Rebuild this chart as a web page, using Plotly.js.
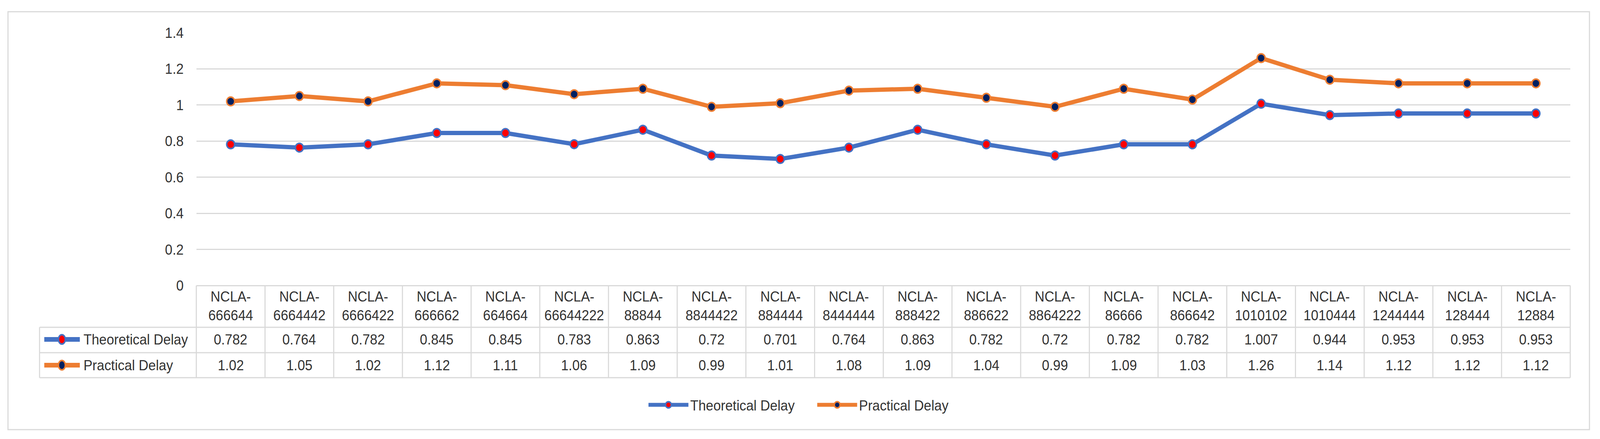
<!DOCTYPE html>
<html>
<head>
<meta charset="utf-8">
<script src="https://cdn.plot.ly/plotly-3.0.1.min.js"></script>
<style>html,body{margin:0;padding:0;background:#fff;overflow:hidden;}#chart{width:4409px;height:1124px;transform-origin:0 0;}</style>
</head>
<body>
<div id="chart"></div>
<script>
const categories = ["NCLA-666644","NCLA-6664442","NCLA-6666422","NCLA-666662","NCLA-664664","NCLA-66644222","NCLA-88844","NCLA-8844422","NCLA-884444","NCLA-8444444","NCLA-888422","NCLA-886622","NCLA-8864222","NCLA-86666","NCLA-866642","NCLA-1010102","NCLA-1010444","NCLA-1244444","NCLA-128444","NCLA-12884"];
const theoreticalDelay = [0.782,0.764,0.782,0.845,0.845,0.783,0.863,0.72,0.701,0.764,0.863,0.782,0.72,0.782,0.782,1.007,0.944,0.953,0.953,0.953];
const practicalDelay = [1.02,1.05,1.02,1.12,1.11,1.06,1.09,0.99,1.01,1.08,1.09,1.04,0.99,1.09,1.03,1.26,1.14,1.12,1.12,1.12];
const seriesNames = ["Theoretical Delay","Practical Delay"];
const yTicks = [0,0.2,0.4,0.6,0.8,1,1.2,1.4];

const W = 4409, H = 1124;
const L = 541, R = 82, T = 84, B = 393;
const PW = W - L - R, PH = H - T - B;
const px = X => (X - L) / PW;
const py = Y => (T + PH - Y) / PH;

const BLUE = "#4472C4", ORANGE = "#ED7D31", RED = "#FF0000", NAVY = "#002060";
const GRID = "#d9d9d9", TXT = "#333333";
const FONT = "Liberation Sans, Arial, sans-serif";
const FS = 37;

const traces = [
  {x: categories, y: theoreticalDelay, name: seriesNames[0], type: "scatter", mode: "lines+markers",
   line: {color: BLUE, width: 11}, marker: {color: RED, size: 22, line: {color: BLUE, width: 4}}, hoverinfo: "skip"},
  {x: categories, y: practicalDelay, name: seriesNames[1], type: "scatter", mode: "lines+markers",
   line: {color: ORANGE, width: 11}, marker: {color: NAVY, size: 22, line: {color: ORANGE, width: 4}}, hoverinfo: "skip"}
];

const shapes = [];
const annotations = [];
const N = categories.length;
const lineStyle = {color: GRID, width: 3};
shapes.push({type: "rect", xref: "paper", yref: "paper", x0: px(22), x1: px(4380), y0: py(1100), y1: py(30), line: {color: GRID, width: 3}, layer: "below"});
const yHead = 731, yR1 = 838, yR2 = 903, yEnd = 967, xLeft = 109;
[yR1, yR2, yEnd].forEach(Y => shapes.push({type: "line", xref: "paper", yref: "paper", x0: px(xLeft), x1: 1, y0: py(Y), y1: py(Y), line: lineStyle}));
shapes.push({type: "line", xref: "paper", yref: "paper", x0: px(xLeft), x1: px(xLeft), y0: py(yR1), y1: py(yEnd), line: lineStyle});
for (let k = 0; k <= N; k++) {
  shapes.push({type: "line", xref: "paper", yref: "paper", x0: k / N, x1: k / N, y0: py(yHead), y1: py(yEnd), line: lineStyle});
}
const yHeadText = py(783), yV1 = py(869), yV2 = py(935);
categories.forEach((c, i) => {
  annotations.push({xref: "x", yref: "paper", x: c, y: yHeadText, text: c.replace("-", "-<br>"), showarrow: false,
    xanchor: "center", yanchor: "middle", font: {family: FONT, size: FS, color: TXT}});
  annotations.push({xref: "x", yref: "paper", x: c, y: yV1, text: String(theoreticalDelay[i]), showarrow: false,
    xanchor: "center", yanchor: "middle", font: {family: FONT, size: FS, color: TXT}});
  annotations.push({xref: "x", yref: "paper", x: c, y: yV2, text: String(practicalDelay[i]), showarrow: false,
    xanchor: "center", yanchor: "middle", font: {family: FONT, size: FS, color: TXT}});
});
[[869, BLUE, RED, seriesNames[0]], [935, ORANGE, NAVY, seriesNames[1]]].forEach(([Y, lc, mc, nm]) => {
  shapes.push({type: "line", xref: "paper", yref: "paper", x0: px(122), x1: px(220), y0: py(Y), y1: py(Y), line: {color: lc, width: 12}});
  shapes.push({type: "circle", xref: "paper", yref: "paper", x0: px(161), x1: px(180), y0: py(Y + 12), y1: py(Y - 12), fillcolor: mc, line: {color: lc, width: 4}});
  annotations.push({xref: "paper", yref: "paper", x: px(228), y: py(Y), text: nm, showarrow: false, xanchor: "left", yanchor: "middle",
    font: {family: FONT, size: FS, color: TXT}});
});

const layout = {
  width: W, height: H,
  margin: {l: L, r: R, t: T, b: B, pad: 0},
  paper_bgcolor: "#ffffff", plot_bgcolor: "#ffffff",
  font: {family: FONT, size: FS, color: TXT},
  showlegend: true,
  legend: {orientation: "h", x: px(1782), xanchor: "left", y: py(1037), yanchor: "middle",
    font: {family: FONT, size: FS, color: TXT}, itemwidth: 110, entrywidth: 340, bgcolor: "rgba(0,0,0,0)"},
  xaxis: {type: "category", range: [-0.5, N - 0.5], showticklabels: false, showgrid: false, zeroline: false,
    showline: false, ticks: "", fixedrange: true},
  yaxis: {range: [0, 1.4], tickvals: yTicks, ticktext: yTicks.map(String), showgrid: true, gridcolor: GRID, gridwidth: 3,
    zeroline: true, zerolinecolor: GRID, zerolinewidth: 3, showline: false, ticks: "", ticklabelstandoff: 34,
    tickfont: {family: FONT, size: FS, color: TXT}, fixedrange: true},
  shapes: shapes,
  annotations: annotations
};

const el = document.getElementById("chart");
const sx = window.innerWidth / W, sy = window.innerHeight / H;
if (Math.abs(sx - 1) > 0.002 || Math.abs(sy - 1) > 0.002) {
  el.style.transform = "scale(" + sx + "," + sy + ")";
}
Plotly.newPlot("chart", traces, layout, {displayModeBar: false, staticPlot: true});
</script>
</body>
</html>
